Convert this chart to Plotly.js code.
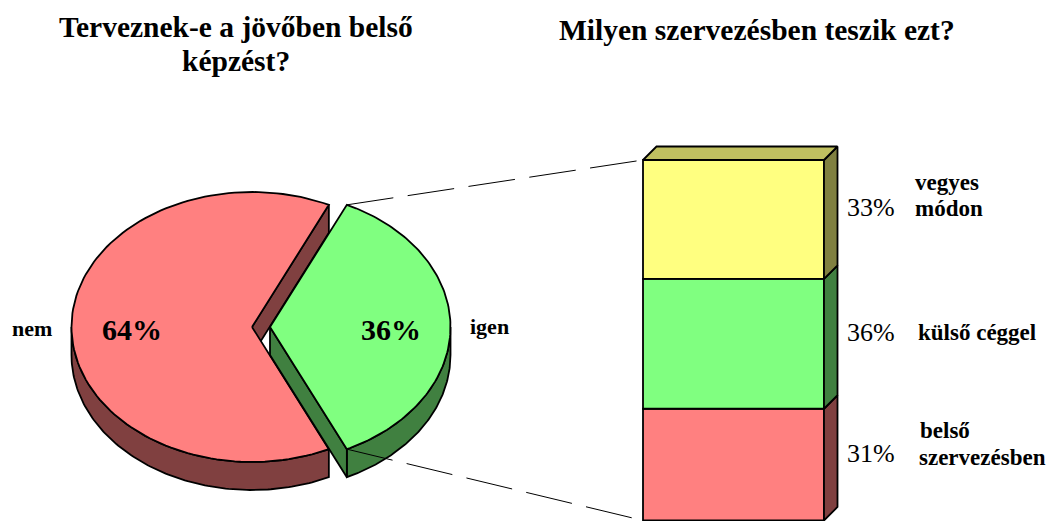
<!DOCTYPE html>
<html><head><meta charset="utf-8">
<script src="https://cdn.plot.ly/plotly-3.0.1.min.js"></script>
<style>html,body{margin:0;padding:0;background:#fff}#c{width:1052px;height:521px}</style>
</head><body><div id="c"></div>
<script>
// Data
const pieLabels = ['nem', 'igen'];
const pieValues = [64, 36];
const stackLabels = [['belső', 'szervezésben'], ['külső céggel'], ['vegyes', 'módon']];
const stackValues = [31, 36, 33];
const stackColors = ['#FF8080', '#80FF80', '#FFFF80'];
const stackSides = ['#804040', '#408040', '#808040'];
const pieColors = ['#FF8080', '#80FF80'];
const pieSides = ['#804040', '#408040'];
const titleLeft = ['Terveznek-e a jövőben belső', 'képzést?'];
const titleRight = 'Milyen szervezésben teszik ezt?';

// Geometry of the drawing (page-pixel axes)
const W = 1052, H = 521, FF = '"Liberation Serif", "Times New Roman", serif';
const rx = 180.5, ry = 135, depth = 28, cy = 327, cxRed = 252, cxGreen = 270;
const pxPerUnit = 3.605, base = 520.5, barX = 733.5, barW = 181, dd = 13.5;
const lw = 1.8;

const traces = [];
function poly(x, y, fill, ax) {
  traces.push({type:'scatter', mode:'lines', x, y, fill:'toself', fillcolor:fill,
    line:{color:'#000', width:lw, shape:'linear'}, yaxis: ax||'y', hoverinfo:'skip', showlegend:false, cliponaxis:false});
}
function arc(cx, a0, a1, dy) {
  const xs = [], ys = [], n = 120;
  for (let i = 0; i <= n; i++) {
    const a = (a0 + (a1 - a0) * i / n) * Math.PI / 180;
    xs.push(cx + rx * Math.cos(a));
    ys.push(cy - ry * Math.sin(a) + dy);
  }
  return [xs, ys];
}
function rim(cx, a0, a1, col) {
  const t = arc(cx, a0, a1, 0), b = arc(cx, a1, a0, depth);
  poly(t[0].concat(b[0], [t[0][0]]), t[1].concat(b[1], [t[1][0]]), col);
}
const total = pieValues[0] + pieValues[1];
const half = pieValues[1] / total * 180;   // half-angle of the "igen" slice

// "nem" slice: rim, cut wall, top face
rim(cxRed, 180, 360 - half, pieSides[0]);
(function () {
  const e = arc(cxRed, half, half, 0);
  const ex = e[0][0], ey = e[1][0];
  poly([cxRed, ex, ex, cxRed, cxRed], [cy, ey, ey + depth, cy + depth, cy], pieSides[0]);
  const f = arc(cxRed, half, 360 - half, 0);
  poly([cxRed].concat(f[0], [cxRed]), [cy].concat(f[1], [cy]), pieColors[0]);
})();
// "igen" slice: rim, cut wall, top face
rim(cxGreen, -half, 0, pieSides[1]);
(function () {
  const e = arc(cxGreen, -half, -half, 0);
  const ex = e[0][0], ey = e[1][0];
  poly([cxGreen, ex, ex, cxGreen, cxGreen], [cy, ey, ey + depth, cy + depth, cy], pieSides[1]);
  const f = arc(cxGreen, -half, half, 0);
  poly([cxGreen].concat(f[0], [cxGreen]), [cy].concat(f[1], [cy]), pieColors[1]);
})();

// Stacked bar
const u = dd / pxPerUnit;
let acc = 0;
stackValues.forEach((v, i) => {
  traces.push({type:'bar', x:[barX], y:[v], base:[acc], width:[barW], yaxis:'y2',
    marker:{color:stackColors[i], line:{color:'#000', width:lw}}, hoverinfo:'skip', showlegend:false});
  const xRight = barX + barW / 2;
  poly([xRight, xRight + dd, xRight + dd, xRight, xRight], [acc, acc + u, acc + v + u, acc + v, acc], stackSides[i], 'y2');
  acc += v;
});
const xl = barX - barW / 2, xr = barX + barW / 2;
poly([xl, xl + dd, xr + dd, xr, xl], [acc, acc + u, acc + u, acc, acc], '#C0C060', 'y2');

// Connector lines
const edgeTop = arc(cxGreen, half, half, 0), edgeBot = arc(cxGreen, -half, -half, 0);
function conn(x0, y0, y1v) {
  traces.push({type:'scatter', mode:'lines', x:[x0, xl], y:[y0, base - y1v * pxPerUnit],
    line:{color:'#000', width:1, dash:'47px,14.5px'}, hoverinfo:'skip', showlegend:false, cliponaxis:false});
}
conn(edgeTop[0][0], edgeTop[1][0], acc);
conn(edgeBot[0][0], edgeBot[1][0], 0);

// Text
function txt(x, y, text, size, bold, align) {
  return {x, y, xref:'x', yref:'y', text: bold ? '<b>' + text + '</b>' : text, showarrow:false,
    font:{family:FF, size, color:'#000'}, align:align||'center', xanchor:align==='left'?'left':'center', yanchor:'middle'};
}
const annotations = [
  txt(236, 27, titleLeft[0], 29.5, true),
  txt(236, 61, titleLeft[1], 29.5, true),
  txt(757, 30, titleRight, 29.5, true),
  txt(32, 328, pieLabels[0], 22, true),
  txt(489, 326, pieLabels[1], 22, true),
  txt(132, 329, pieValues[0] + '%', 30, true),
  txt(391, 329, pieValues[1] + '%', 30, true),
  txt(871, 207, stackValues[2] + '%', 26, false),
  txt(871, 332, stackValues[1] + '%', 26, false),
  txt(871, 453, stackValues[0] + '%', 26, false),
  txt(913, 182, stackLabels[2][0], 23, true, 'left'),
  txt(913, 208, stackLabels[2][1], 23, true, 'left'),
  txt(916, 332, stackLabels[1][0], 23, true, 'left'),
  txt(918, 430, stackLabels[0][0], 23, true, 'left'),
  txt(917, 457, stackLabels[0][1], 23, true, 'left')
];

Plotly.newPlot('c', traces, {
  width: W, height: H, margin:{l:0, r:0, t:0, b:0, pad:0},
  paper_bgcolor:'#fff', plot_bgcolor:'#fff', showlegend:false, barmode:'overlay',
  xaxis:{range:[0, W], visible:false, fixedrange:true},
  yaxis:{range:[H, 0], visible:false, fixedrange:true},
  yaxis2:{range:[(base - H) / pxPerUnit, base / pxPerUnit], overlaying:'y', visible:false, fixedrange:true},
  annotations
}, {displayModeBar:false, staticPlot:true});
</script></body></html>
